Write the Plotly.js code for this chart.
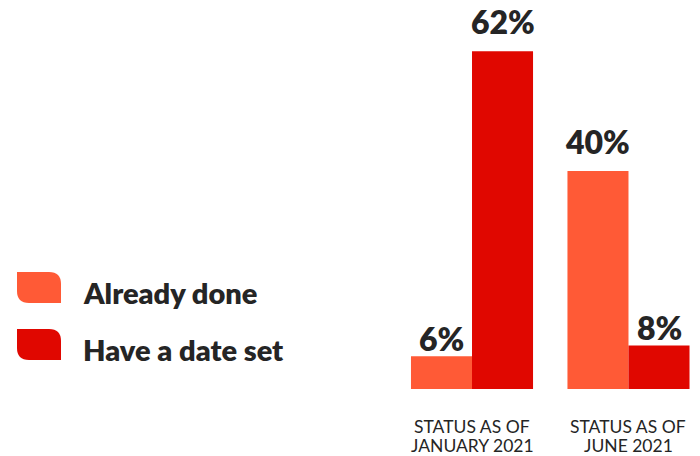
<!DOCTYPE html>
<html>
<head>
<meta charset="utf-8">
<script src="https://cdn.plot.ly/plotly-3.0.1.min.js"></script>
<style>
  html, body { margin: 0; padding: 0; background: #fff; }
  #chart { width: 700px; height: 456px; }
</style>
</head>
<body>
<div id="chart"></div>
<script>
// ---- Data ----
const categories = ["Jan 2021", "Jun 2021"];
const categoryLine1 = ["STATUS AS OF", "STATUS AS OF"];
const categoryLine2 = ["JANUARY 2021", "JUNE 2021"];
const seriesNames = ["Already done", "Have a date set"];
const alreadyDone = [6, 40];
const haveDateSet = [62, 8];

// ---- Style ----
const COLORS = ["#FF5A36", "#E00700"];
const TEXT = "#252525";
const FONT = "Lato, 'Open Sans', sans-serif";
const W = 700, H = 456, BASE = 389;
const px = x => x / W;
const py = y => (BASE - y) / BASE;

const catIdx = categories.map((c, i) => i);

const traces = [
  { type: "bar", x: catIdx, y: alreadyDone, name: seriesNames[0],
    marker: { color: COLORS[0] }, hoverinfo: "none" },
  { type: "bar", x: catIdx, y: haveDateSet, name: seriesNames[1],
    marker: { color: COLORS[1] }, hoverinfo: "none" }
];

const annotations = [];
const bargap = 0.22;
const half = (1 - bargap) / 4;
[alreadyDone, haveDateSet].forEach((vals, s) => {
  vals.forEach((v, i) => {
    const other = s === 0 ? haveDateSet[i] : alreadyDone[i];
    annotations.push({
      x: i + (s === 0 ? -half : half), y: v, xref: "x", yref: "y",
      text: v + "%", showarrow: false, yanchor: "middle",
      yshift: v >= other ? 30 : 18,
      font: { family: FONT, size: 32, color: TEXT, weight: 800 }
    });
  });
});
categories.forEach((c, i) => {
  annotations.push({ x: i, y: py(426.5), xref: "x", yref: "paper", text: categoryLine1[i],
    showarrow: false, yanchor: "middle", font: { family: FONT, size: 17.5, color: TEXT } });
  annotations.push({ x: i, y: py(445.5), xref: "x", yref: "paper", text: categoryLine2[i],
    showarrow: false, yanchor: "middle", font: { family: FONT, size: 17.5, color: TEXT } });
});

// Legend (custom leaf-shaped swatches)
const shapes = [];
const legendY = [272, 329];
seriesNames.forEach((name, s) => {
  const x0 = 17, x1 = 61, y0 = legendY[s], y1 = y0 + 31, r = 12;
  const path = `M ${px(x0)},${py(y0)} L ${px(x1 - r)},${py(y0)} Q ${px(x1)},${py(y0)} ${px(x1)},${py(y0 + r)} ` +
               `L ${px(x1)},${py(y1)} L ${px(x0 + r)},${py(y1)} Q ${px(x0)},${py(y1)} ${px(x0)},${py(y1 - r)} Z`;
  shapes.push({ type: "path", xref: "paper", yref: "paper", path: path,
    fillcolor: COLORS[s], line: { width: 0 } });
  annotations.push({ x: px(81), y: py(y0 + 20), xref: "paper", yref: "paper",
    text: name, showarrow: false, xanchor: "left", yanchor: "middle",
    font: { family: FONT, size: 29, color: TEXT, weight: 800 } });
});

const layout = {
  width: W, height: H,
  margin: { l: 0, r: 0, t: 0, b: H - BASE },
  paper_bgcolor: "#fff", plot_bgcolor: "#fff",
  barmode: "group", bargap: bargap, bargroupgap: 0,
  showlegend: false,
  xaxis: { domain: [380 / W, 1], range: [-0.588, 1.457], showticklabels: false,
    showgrid: false, zeroline: false, showline: false, ticks: "", fixedrange: true },
  yaxis: { range: [0, 71.4], visible: false, showgrid: false, zeroline: false, fixedrange: true },
  annotations: annotations,
  shapes: shapes
};

Plotly.newPlot("chart", traces, layout, { displayModeBar: false, staticPlot: true });
</script>
</body>
</html>
